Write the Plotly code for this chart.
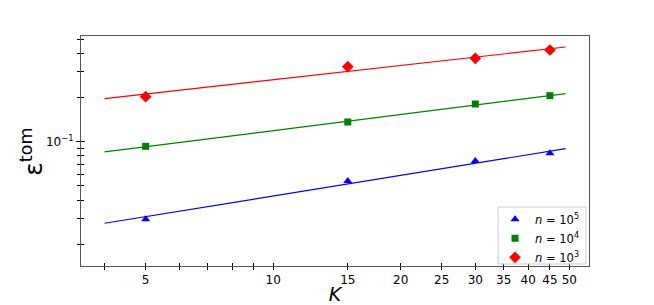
import plotly.graph_objects as go

# ---- data ----
K = [5, 15, 30, 45]
eps_n1e5 = [0.0296, 0.0540, 0.0739, 0.0834]
eps_n1e4 = [0.0930, 0.1362, 0.1806, 0.2058]
eps_n1e3 = [0.2025, 0.3243, 0.3700, 0.4214]

fit_K = [4, 49]
fit_n1e5 = [0.0278, 0.0896]
fit_n1e4 = [0.0851, 0.2123]
fit_n1e3 = [0.1963, 0.4416]

series_names = ["<i>n</i> = 10<sup>5</sup>", "<i>n</i> = 10<sup>4</sup>", "<i>n</i> = 10<sup>3</sup>"]

x_major = [5, 10, 15, 20, 25, 30, 35, 40, 45, 50]
x_major_text = ["5", "10", "15", "20", "25", "30", "35", "40", "45", "50"]
x_minor = [4, 6, 7, 8, 9]
y_major = [0.1]
y_major_text = ["10<sup>−1</sup>"]
y_minor = [0.02, 0.03, 0.04, 0.05, 0.06, 0.07, 0.08, 0.09, 0.2, 0.3, 0.4, 0.5]

x_range = [0.5464, 1.7455]
y_range = [-1.847, -0.280]

colors = ["#0000ff", "#008000", "#ff0000"]
symbols = ["triangle-up", "square", "diamond"]
msizes = [8, 7, 9]

fig = go.Figure()

for fit, c in zip([fit_n1e5, fit_n1e4, fit_n1e3], colors):
    fig.add_trace(go.Scatter(x=fit_K, y=fit, mode="lines",
                             line=dict(color=c, width=1.2),
                             showlegend=False, hoverinfo="skip"))

for vals, c, s, ms, nm in zip([eps_n1e5, eps_n1e4, eps_n1e3], colors, symbols, msizes, series_names):
    fig.add_trace(go.Scatter(x=K, y=vals, mode="markers", name=nm,
                             marker=dict(color=c, symbol=s, size=ms, line=dict(width=0))))

# invisible trace for the overlay axes (inner tick halves)
fig.add_trace(go.Scatter(x=[10], y=[0.1], xaxis="x2", yaxis="y2", mode="markers",
                         marker=dict(opacity=0), showlegend=False, hoverinfo="skip"))

tickfont = dict(family="DejaVu Sans", size=12, color="#000000")
tk = dict(ticks="outside", ticklen=3, tickwidth=1, tickcolor="#000000")
tk_in = dict(ticks="inside", ticklen=3, tickwidth=1, tickcolor="#000000")

fig.update_layout(
    width=654, height=305,
    margin=dict(l=81, r=65, t=36, b=39),
    paper_bgcolor="white", plot_bgcolor="white",
    showlegend=True,
    legend=dict(x=0.815, y=0.266, xanchor="left", yanchor="top",
                bgcolor="rgba(0,0,0,0)", borderwidth=0,
                font=dict(family="DejaVu Sans", size=11.5, color="#000000"),
                itemwidth=30, tracegroupgap=0),
    shapes=[dict(type="rect", xref="paper", yref="paper", x0=0.821, x1=0.994, y0=0.0087, y1=0.2565,
                 line=dict(color="#cccccc", width=1), fillcolor="rgba(255,255,255,0.8)", layer="above")],
    annotations=[dict(text="ε<sup>tom</sup>", xref="paper", yref="paper", x=-0.095, y=0.496,
                      xanchor="center", yanchor="middle", textangle=-90, showarrow=False,
                      font=dict(family="DejaVu Sans", size=25, color="#000000"))],
    xaxis=dict(type="log", range=x_range, tickmode="array", tickvals=x_major, ticktext=x_major_text,
               **tk, minor=dict(tickmode="array", tickvals=x_minor, **tk),
               showline=True, linecolor="#555555", linewidth=1, mirror=True,
               showgrid=False, zeroline=False, tickfont=tickfont, automargin=False,
               title=dict(text="<i>K</i>", font=dict(family="DejaVu Sans", size=19, color="#000000"), standoff=6)),
    yaxis=dict(type="log", range=y_range, tickmode="array", tickvals=y_major, ticktext=y_major_text,
               ticks="outside", ticklen=4, tickwidth=1, tickcolor="#000000",
               minor=dict(tickmode="array", tickvals=y_minor, **tk),
               showline=True, linecolor="#555555", linewidth=1, mirror=True,
               showgrid=False, zeroline=False, tickfont=tickfont, automargin=False),
    xaxis2=dict(type="log", range=x_range, overlaying="x", side="bottom", anchor="y2",
                tickmode="array", tickvals=x_major, **tk_in,
                minor=dict(tickmode="array", tickvals=x_minor, **tk_in),
                showticklabels=False, showline=False, showgrid=False, zeroline=False, automargin=False),
    yaxis2=dict(type="log", range=y_range, overlaying="y", side="left", anchor="x2",
                tickmode="array", tickvals=y_major, ticks="inside", ticklen=4, tickwidth=1, tickcolor="#000000",
                minor=dict(tickmode="array", tickvals=y_minor, **tk_in),
                showticklabels=False, showline=False, showgrid=False, zeroline=False, automargin=False),
)

fig.write_html("out.html", config={"displayModeBar": False},
               post_script="document.body.style.margin='0';document.body.style.padding='0';")
